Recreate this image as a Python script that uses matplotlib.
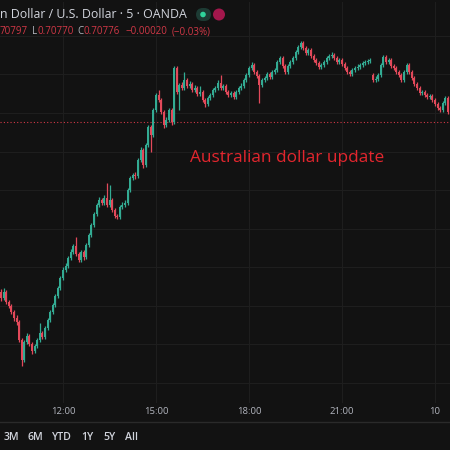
import numpy as np
import pandas as pd
import matplotlib
matplotlib.use("Agg")
import matplotlib.pyplot as plt
from matplotlib.patches import FancyBboxPatch, Circle

# 5 minute AUD/USD bars, starting 10:00
start_time = "2021-06-09 10:00"

opens = [
    0.70335, 0.70319, 0.70335, 0.70309, 0.70299, 0.70283, 0.70268, 0.70257, 0.70210, 0.70158,
    0.70205, 0.70221, 0.70200, 0.70182, 0.70195, 0.70210, 0.70229, 0.70218, 0.70242, 0.70262,
    0.70283, 0.70301, 0.70325, 0.70345, 0.70371, 0.70392, 0.70403, 0.70423, 0.70439, 0.70455,
    0.70434, 0.70418, 0.70439, 0.70426, 0.70457, 0.70483, 0.70509, 0.70538, 0.70561, 0.70574,
    0.70566, 0.70579, 0.70561, 0.70574, 0.70548, 0.70532, 0.70530, 0.70556, 0.70561, 0.70566,
    0.70600, 0.70631, 0.70639, 0.70636, 0.70678, 0.70704, 0.70665, 0.70717, 0.70764, 0.70743,
    0.70808, 0.70847, 0.70834, 0.70803, 0.70769, 0.70782, 0.70808, 0.70777, 0.70917, 0.70855,
    0.70873, 0.70865, 0.70886, 0.70870, 0.70875, 0.70860, 0.70865, 0.70849, 0.70855, 0.70834,
    0.70823, 0.70839, 0.70847, 0.70860, 0.70865, 0.70878, 0.70865, 0.70870, 0.70855, 0.70847,
    0.70852, 0.70842, 0.70855, 0.70865, 0.70870, 0.70886, 0.70899, 0.70917, 0.70925, 0.70906,
    0.70896, 0.70873, 0.70886, 0.70891, 0.70901, 0.70894, 0.70906, 0.70912, 0.70932, 0.70943,
    0.70922, 0.70906, 0.70922, 0.70932, 0.70943, 0.70958, 0.70971, 0.70982, 0.70969, 0.70956,
    0.70964, 0.70948, 0.70938, 0.70930, 0.70919, 0.70925, 0.70932, 0.70943, 0.70948, 0.70951,
    0.70943, 0.70932, 0.70938, 0.70927, 0.70917, 0.70906, 0.70901, 0.70912, 0.70917, 0.70919,
    0.70925, 0.70930, 0.70932, 0.70935, 0.70899, 0.70886, 0.70889, 0.70899, 0.70925, 0.70945,
    0.70932, 0.70938, 0.70922, 0.70917, 0.70906, 0.70899, 0.70886, 0.70906, 0.70925, 0.70906,
    0.70891, 0.70875, 0.70865, 0.70852, 0.70855, 0.70847, 0.70842, 0.70844, 0.70834, 0.70823,
    0.70813, 0.70808, 0.70826, 0.70839,
]
highs = [
    0.70342, 0.70345, 0.70339, 0.70314, 0.70305, 0.70289, 0.70276, 0.70262, 0.70215, 0.70211,
    0.70228, 0.70226, 0.70206, 0.70201, 0.70216, 0.70255, 0.70234, 0.70248, 0.70268, 0.70289,
    0.70307, 0.70331, 0.70351, 0.70377, 0.70399, 0.70410, 0.70429, 0.70446, 0.70461, 0.70478,
    0.70440, 0.70445, 0.70444, 0.70463, 0.70489, 0.70515, 0.70544, 0.70567, 0.70581, 0.70580,
    0.70586, 0.70618, 0.70612, 0.70579, 0.70554, 0.70538, 0.70562, 0.70568, 0.70573, 0.70606,
    0.70637, 0.70645, 0.70646, 0.70684, 0.70712, 0.70709, 0.70723, 0.70770, 0.70769, 0.70814,
    0.70853, 0.70860, 0.70839, 0.70808, 0.70789, 0.70814, 0.70813, 0.70923, 0.70922, 0.70879,
    0.70880, 0.70906, 0.70891, 0.70882, 0.70880, 0.70872, 0.70870, 0.70869, 0.70860, 0.70839,
    0.70845, 0.70853, 0.70866, 0.70871, 0.70886, 0.70899, 0.70876, 0.70875, 0.70860, 0.70858,
    0.70857, 0.70861, 0.70871, 0.70877, 0.70892, 0.70905, 0.70923, 0.70932, 0.70930, 0.70911,
    0.70901, 0.70892, 0.70897, 0.70907, 0.70907, 0.70912, 0.70918, 0.70938, 0.70949, 0.70948,
    0.70927, 0.70928, 0.70938, 0.70949, 0.70964, 0.70977, 0.70987, 0.70986, 0.70974, 0.70970,
    0.70969, 0.70953, 0.70943, 0.70935, 0.70931, 0.70938, 0.70949, 0.70954, 0.70958, 0.70956,
    0.70948, 0.70944, 0.70943, 0.70932, 0.70922, 0.70911, 0.70918, 0.70923, 0.70926, 0.70931,
    0.70936, 0.70938, 0.70941, 0.70944, 0.70904, 0.70895, 0.70905, 0.70931, 0.70951, 0.70950,
    0.70944, 0.70943, 0.70927, 0.70922, 0.70911, 0.70904, 0.70912, 0.70931, 0.70930, 0.70911,
    0.70896, 0.70880, 0.70870, 0.70861, 0.70860, 0.70852, 0.70850, 0.70849, 0.70839, 0.70828,
    0.70818, 0.70832, 0.70845, 0.70844,
]
lows = [
    0.70312, 0.70314, 0.70304, 0.70293, 0.70278, 0.70261, 0.70250, 0.70204, 0.70143, 0.70152,
    0.70199, 0.70194, 0.70175, 0.70177, 0.70190, 0.70205, 0.70212, 0.70213, 0.70237, 0.70257,
    0.70278, 0.70296, 0.70320, 0.70340, 0.70366, 0.70386, 0.70398, 0.70418, 0.70434, 0.70429,
    0.70412, 0.70413, 0.70419, 0.70421, 0.70452, 0.70478, 0.70504, 0.70533, 0.70556, 0.70560,
    0.70561, 0.70556, 0.70555, 0.70542, 0.70526, 0.70524, 0.70525, 0.70550, 0.70556, 0.70561,
    0.70595, 0.70626, 0.70629, 0.70631, 0.70673, 0.70658, 0.70660, 0.70712, 0.70699, 0.70738,
    0.70803, 0.70828, 0.70797, 0.70762, 0.70763, 0.70777, 0.70770, 0.70772, 0.70849, 0.70808,
    0.70859, 0.70860, 0.70864, 0.70864, 0.70854, 0.70855, 0.70843, 0.70844, 0.70828, 0.70816,
    0.70818, 0.70833, 0.70842, 0.70854, 0.70860, 0.70860, 0.70860, 0.70849, 0.70841, 0.70842,
    0.70836, 0.70837, 0.70850, 0.70860, 0.70865, 0.70881, 0.70894, 0.70912, 0.70900, 0.70890,
    0.70826, 0.70868, 0.70880, 0.70886, 0.70888, 0.70889, 0.70901, 0.70907, 0.70927, 0.70916,
    0.70900, 0.70901, 0.70917, 0.70927, 0.70938, 0.70953, 0.70966, 0.70963, 0.70950, 0.70951,
    0.70942, 0.70932, 0.70924, 0.70913, 0.70914, 0.70920, 0.70927, 0.70938, 0.70943, 0.70937,
    0.70926, 0.70927, 0.70921, 0.70911, 0.70900, 0.70895, 0.70896, 0.70907, 0.70912, 0.70914,
    0.70920, 0.70925, 0.70927, 0.70930, 0.70880, 0.70881, 0.70884, 0.70894, 0.70920, 0.70926,
    0.70927, 0.70916, 0.70911, 0.70900, 0.70893, 0.70880, 0.70881, 0.70901, 0.70900, 0.70885,
    0.70869, 0.70859, 0.70846, 0.70847, 0.70841, 0.70836, 0.70837, 0.70828, 0.70817, 0.70807,
    0.70802, 0.70803, 0.70821, 0.70797,
]
closes = [
    0.70319, 0.70335, 0.70309, 0.70299, 0.70283, 0.70268, 0.70257, 0.70210, 0.70158, 0.70205,
    0.70221, 0.70200, 0.70182, 0.70195, 0.70210, 0.70229, 0.70218, 0.70242, 0.70262, 0.70283,
    0.70301, 0.70325, 0.70345, 0.70371, 0.70392, 0.70403, 0.70423, 0.70439, 0.70455, 0.70434,
    0.70418, 0.70439, 0.70426, 0.70457, 0.70483, 0.70509, 0.70538, 0.70561, 0.70574, 0.70566,
    0.70579, 0.70561, 0.70574, 0.70548, 0.70532, 0.70530, 0.70556, 0.70561, 0.70566, 0.70600,
    0.70631, 0.70639, 0.70636, 0.70678, 0.70704, 0.70665, 0.70717, 0.70764, 0.70743, 0.70808,
    0.70847, 0.70834, 0.70803, 0.70769, 0.70782, 0.70808, 0.70777, 0.70917, 0.70855, 0.70873,
    0.70865, 0.70886, 0.70870, 0.70875, 0.70860, 0.70865, 0.70849, 0.70855, 0.70834, 0.70823,
    0.70839, 0.70847, 0.70860, 0.70865, 0.70878, 0.70865, 0.70870, 0.70855, 0.70847, 0.70852,
    0.70842, 0.70855, 0.70865, 0.70870, 0.70886, 0.70899, 0.70917, 0.70925, 0.70906, 0.70896,
    0.70873, 0.70886, 0.70891, 0.70901, 0.70894, 0.70906, 0.70912, 0.70932, 0.70943, 0.70922,
    0.70906, 0.70922, 0.70932, 0.70943, 0.70958, 0.70971, 0.70982, 0.70969, 0.70956, 0.70964,
    0.70948, 0.70938, 0.70930, 0.70919, 0.70925, 0.70932, 0.70943, 0.70948, 0.70951, 0.70943,
    0.70932, 0.70938, 0.70927, 0.70917, 0.70906, 0.70901, 0.70912, 0.70917, 0.70919, 0.70925,
    0.70930, 0.70932, 0.70935, 0.70938, 0.70886, 0.70889, 0.70899, 0.70925, 0.70945, 0.70932,
    0.70938, 0.70922, 0.70917, 0.70906, 0.70899, 0.70886, 0.70906, 0.70925, 0.70906, 0.70891,
    0.70875, 0.70865, 0.70852, 0.70855, 0.70847, 0.70842, 0.70844, 0.70834, 0.70823, 0.70813,
    0.70808, 0.70826, 0.70839, 0.70803,
]

last_price = 0.70776
header_title = "n Dollar / U.S. Dollar \u00b7 5 \u00b7 OANDA"
# (text, colour kind, gap in px before the piece)
ohlc_parts = [("70797", "red", 0), ("L", "grey", 4), ("0.70770", "red", 0),
              ("C", "grey", 4), ("0.70776", "red", 0), ("\u22120.00020", "red", 5),
              ("(\u22120.03%)", "red", 5)]
tick_times = ["12:00", "15:00", "18:00", "21:00", "00:00"]
tick_labels = ["12:00", "15:00", "18:00", "21:00", "10"]
price_grid = [0.7010, 0.7020, 0.7030, 0.7040, 0.7050, 0.7060, 0.7070, 0.7080, 0.7090, 0.7100]
range_buttons = ["3M", "6M", "YTD", "1Y", "5Y", "All"]
annotation = "Australian dollar update"

BG = "#121212"
GRID = "#1e1e1e"
UP = "#33ab93"
DOWN = "#e2495a"
TEXT = "#d1d4dc"
RED_TXT = "#d23847"

W, H = 450, 450


def fx(px):
    return px / W


def fy(py):
    return 1 - py / H


def main() -> None:
    plt.rcParams["font.family"] = ["Open Sans", "DejaVu Sans"]
    fig = plt.figure(figsize=(4.5, 4.5), dpi=100, facecolor=BG)
    ax = fig.add_axes([0, fy(403), 1, fy(2) - fy(403)])
    ax.set_facecolor(BG)

    o = np.array(opens)
    h = np.array(highs)
    l = np.array(lows)
    c = np.array(closes)
    x = np.arange(len(c))
    times = pd.date_range(start_time, periods=len(c), freq="5min")
    colors = np.where(c >= o, UP, DOWN)

    ax.vlines(x, l, h, colors=colors, linewidth=0.9, zorder=3)
    body = np.maximum(np.abs(c - o), 0.00002)
    ax.bar(x, body, bottom=np.minimum(o, c), width=0.75, color=colors,
           linewidth=0, zorder=4)

    ax.axhline(last_price, color=RED_TXT, linestyle=(0, (1, 2)), linewidth=0.8, zorder=2)

    ax.set_xlim(-0.39, 173.8)
    ax.set_ylim(0.700468, 0.710883)

    labels_time = [t.strftime("%H:%M") for t in times]
    pos = [labels_time.index(t) for t in tick_times]
    ax.set_xticks(pos)
    ax.set_xticklabels(tick_labels)
    ax.set_yticks(price_grid)
    ax.tick_params(axis="x", length=0, pad=3, labelsize=6.8, colors="#b2b5be")
    ax.tick_params(axis="y", length=0, labelleft=False)
    ax.grid(True, color=GRID, linewidth=0.8, zorder=0)
    for s in ax.spines.values():
        s.set_visible(False)

    # header
    fig.text(fx(0), fy(15), header_title, color=TEXT, fontsize=8.9,
             ha="left", va="center")
    renderer = fig.canvas.get_renderer()
    cur = 0.0
    for txt, kind, gap in ohlc_parts:
        cur += gap
        t = fig.text(fx(cur), fy(32), txt, color=RED_TXT if kind == "red" else "#b2b5be",
                     fontsize=7.0, ha="left", va="center")
        cur += t.get_window_extent(renderer).width
    fig.patches.append(FancyBboxPatch((fx(196), fy(21)), fx(15), fy(8) - fy(21),
                                      boxstyle="round,pad=0,rounding_size=0.015",
                                      transform=fig.transFigure, facecolor="#1d3b34",
                                      edgecolor="none"))
    fig.patches.append(Circle((fx(203), fy(14.5)), fx(2.8), transform=fig.transFigure,
                              facecolor="#2fd29a", edgecolor="none"))
    fig.patches.append(Circle((fx(219), fy(14.5)), fx(6), transform=fig.transFigure,
                              facecolor="#a3174c", edgecolor="none"))

    fig.text(fx(287), fy(158), annotation, color="#e3262e", fontsize=12.4,
             ha="center", va="center")

    # bottom toolbar
    fig.add_artist(plt.Line2D([0, 1], [fy(422), fy(422)], color="#2a2a2a",
                              linewidth=1, transform=fig.transFigure))
    centers = [11.5, 35, 62, 87.5, 109, 131.5]
    for txt, px in zip(range_buttons, centers):
        fig.text(fx(px), fy(438), txt, color=TEXT, fontsize=7.6, ha="center",
                 va="center", fontweight="semibold")

    fig.savefig("out.png", dpi=100, facecolor=BG)


if __name__ == "__main__":
    main()
